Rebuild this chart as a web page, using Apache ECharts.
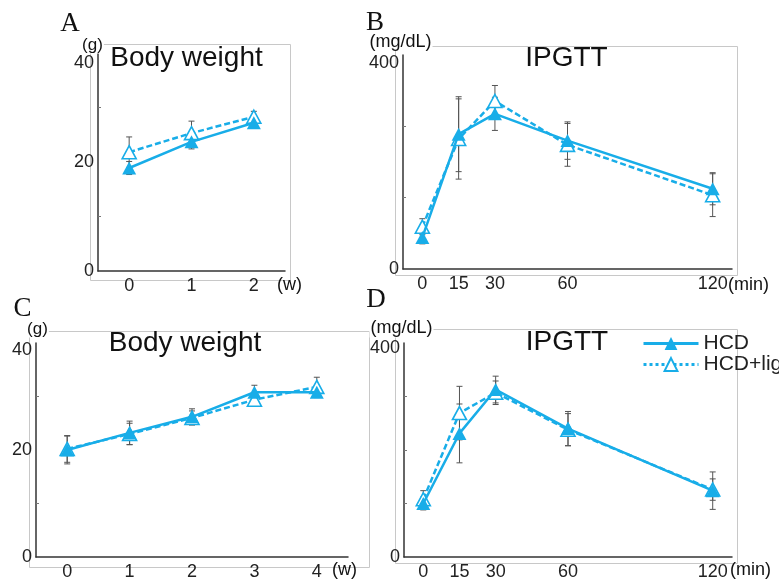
<!DOCTYPE html>
<html><head><meta charset="utf-8">
<script src="https://cdn.jsdelivr.net/npm/echarts@6/dist/echarts.min.js"></script>
<style>html,body{margin:0;padding:0;background:#fff}#c{width:779px;height:581px}</style>
</head><body><div id="c"></div>
<script>
// ---- data ----
const weeksA = ['0', '1', '2'];
const bwA_HCD = [18.9, 23.7, 27.2];
const bwA_HCD_sd = [1.2, 1.3, 0.8];
const bwA_lig = [21.8, 25.3, 28.3];
const bwA_lig_sd = [2.8, 2.2, 1.0];

const minutes = [0, 15, 30, 60, 120];
const gluB_HCD = [59, 252, 290, 240, 150];
const gluB_HCD_sd = [12, 70, 31, 35, 30];
const gluB_lig = [79, 243, 314, 232, 138];
const gluB_lig_sd = [15, 75, 29, 40, 40];

const weeksC = ['0', '1', '2', '3', '4'];
const bwC_HCD = [20.0, 23.2, 26.2, 30.8, 30.8];
const bwC_HCD_sd = [2.6, 2.2, 1.5, 1.3, 1.0];
const bwC_lig = [20.2, 23.0, 26.0, 29.4, 31.8];
const bwC_lig_sd = [2.5, 2.0, 1.3, 1.0, 1.8];

const gluD_HCD = [100, 231, 313, 240, 124];
const gluD_HCD_sd = [12, 55, 25, 32, 35];
const gluD_lig = [108, 269, 307, 238, 126];
const gluD_lig_sd = [16, 50, 22, 30, 20];

const bwLabels = [0, 20, 40];
const bwMinorTicks = [10, 30];
const gluLabels = [0, 400];
const gluMinorB = [133.3, 266.7];
const gluMinorD = [100, 200, 300];
const minuteLabels = [0, 15, 30, 60, 120];

// ---- styling ----
const BLUE = '#18ade8';
const SANS = '"Liberation Sans", Arial, Helvetica, sans-serif';
const SERIF = '"Liberation Serif", "Times New Roman", serif';

const idx = arr => arr.map((_, i) => i);

function lineSeries(name, ai, xs, ys, open) {
  return {
    type: 'line', name, xAxisIndex: ai, yAxisIndex: ai,
    data: ys.map((v, i) => [xs[i], v]),
    symbol: 'triangle', symbolSize: [14, 13],
    lineStyle: { color: BLUE, width: 2.5, type: open ? [6, 3] : 'solid' },
    itemStyle: open ? { color: '#fff', borderColor: BLUE, borderWidth: 1.6 } : { color: BLUE },
    z: open ? 3 : 4, animation: false
  };
}
function errSeries(ai, xs, ys, sds) {
  return {
    type: 'custom', xAxisIndex: ai, yAxisIndex: ai, z: 2, silent: true, animation: false,
    data: ys.map((v, i) => [xs[i], v, sds[i]]),
    encode: { x: 0, y: 1 },
    renderItem(params, api) {
      const x = api.value(0), v = api.value(1), e = api.value(2);
      const t = api.coord([x, v + e]), b = api.coord([x, v - e]);
      const w = 3, st = { stroke: '#555', lineWidth: 1 };
      return { type: 'group', children: [
        { type: 'line', shape: { x1: t[0], y1: t[1], x2: b[0], y2: b[1] }, style: st },
        { type: 'line', shape: { x1: t[0] - w, y1: t[1], x2: t[0] + w, y2: t[1] }, style: st },
        { type: 'line', shape: { x1: b[0] - w, y1: b[1], x2: b[0] + w, y2: b[1] }, style: st }
      ]};
    }
  };
}
const axLine = { show: true, onZero: false, lineStyle: { color: '#333', width: 1.5 } };
const lab = { fontSize: 18, color: '#222', fontFamily: SANS };
function catX(gi, data) {
  return { type: 'category', gridIndex: gi, data, boundaryGap: true, axisLine: axLine,
    axisTick: { show: false }, axisLabel: { ...lab, margin: 6 }, splitLine: { show: false } };
}
function minX(gi) {
  return { type: 'value', gridIndex: gi, min: -8, max: 128, axisLine: axLine,
    axisTick: { show: false }, axisLabel: { ...lab, margin: 6, customValues: minuteLabels },
    splitLine: { show: false } };
}
function valY(gi, max, labels, ticks, topPad) {
  return { type: 'value', gridIndex: gi, min: 0, max, axisLine: axLine,
    axisTick: { show: true, inside: true, length: 3, customValues: ticks, lineStyle: { color: '#777' } },
    axisLabel: { ...lab, margin: 4, customValues: labels,
      formatter: v => v === max ? '{t|' + v + '}' : String(v),
      rich: { t: { ...lab, padding: [topPad, 0, 0, 0] } } },
    splitLine: { show: false } };
}
function txt(text, x, y, size, opts) {
  return { type: 'text', x, y, z: 10, style: Object.assign({ text, font: size + 'px ' + SANS, fill: '#111',
    align: 'center', verticalAlign: 'middle' }, opts || {}) };
}
function frame(x, y, w, h) {
  return { type: 'rect', z: 0, shape: { x: x + 0.5, y: y + 0.5, width: w, height: h },
    style: { fill: 'none', stroke: '#c8c8c8', lineWidth: 1 } };
}
const unitBg = { backgroundColor: '#fff', padding: [0, 1] };

const chart = echarts.init(document.getElementById('c'), null, { renderer: 'canvas' });
chart.setOption({
  backgroundColor: '#fff',
  animation: false,
  grid: [
    { left: 98, top: 53, width: 187, height: 218 },
    { left: 403, top: 55, width: 329, height: 214 },
    { left: 36, top: 343, width: 312, height: 214 },
    { left: 404, top: 343, width: 328, height: 214 }
  ],
  xAxis: [catX(0, weeksA), minX(1), catX(2, weeksC), minX(3)],
  yAxis: [valY(0, 40, bwLabels, bwMinorTicks, 20), valY(1, 400, gluLabels, gluMinorB, 16),
          valY(2, 40, bwLabels, bwMinorTicks, 14), valY(3, 400, gluLabels, gluMinorD, 10)],
  legend: {
    orient: 'vertical', left: 642, top: 333, padding: 0, itemGap: 0,
    itemWidth: 55, itemHeight: 16,
    textStyle: { fontSize: 21, lineHeight: 20, color: '#222', fontFamily: SANS },
    data: [
      { name: 'HCD', lineStyle: { type: 'solid', width: 3 } },
      { name: 'HCD+lig', lineStyle: { type: [3, 3], width: 3 } }
    ]
  },
  series: [
    errSeries(0, idx(weeksA), bwA_HCD, bwA_HCD_sd),
    errSeries(0, idx(weeksA), bwA_lig, bwA_lig_sd),
    lineSeries('HCD+lig', 0, idx(weeksA), bwA_lig, true),
    lineSeries('HCD', 0, idx(weeksA), bwA_HCD, false),

    errSeries(1, minutes, gluB_HCD, gluB_HCD_sd),
    errSeries(1, minutes, gluB_lig, gluB_lig_sd),
    lineSeries('HCD+lig', 1, minutes, gluB_lig, true),
    lineSeries('HCD', 1, minutes, gluB_HCD, false),

    errSeries(2, idx(weeksC), bwC_HCD, bwC_HCD_sd),
    errSeries(2, idx(weeksC), bwC_lig, bwC_lig_sd),
    lineSeries('HCD+lig', 2, idx(weeksC), bwC_lig, true),
    lineSeries('HCD', 2, idx(weeksC), bwC_HCD, false),

    errSeries(3, minutes, gluD_HCD, gluD_HCD_sd),
    errSeries(3, minutes, gluD_lig, gluD_lig_sd),
    lineSeries('HCD+lig', 3, minutes, gluD_lig, true),
    lineSeries('HCD', 3, minutes, gluD_HCD, false)
  ],
  graphic: [
    frame(90, 44, 200, 236),
    frame(395, 46, 342, 229),
    frame(29, 331, 340, 236),
    frame(395, 329, 342, 234),
    txt('A', 70, 24, 27, { font: '27px ' + SERIF }),
    txt('B', 375, 23, 27, { font: '27px ' + SERIF }),
    txt('C', 22.5, 309, 27, { font: '27px ' + SERIF }),
    txt('D', 376, 300, 27, { font: '27px ' + SERIF }),
    txt('Body weight', 186.5, 58, 28),
    txt('IPGTT', 566.5, 58.5, 28),
    txt('Body weight', 185, 343, 28),
    txt('IPGTT', 567, 342, 28),
    txt('(g)', 92.5, 45, 17, unitBg),
    txt('(mg/dL)', 400.5, 42, 18, unitBg),
    txt('(g)', 37.5, 329, 17, unitBg),
    txt('(mg/dL)', 401.5, 328.5, 18, unitBg),
    txt('(w)', 277, 285, 18, { align: 'left' }),
    txt('(min)', 728, 285, 18, { align: 'left' }),
    txt('(w)', 332, 570, 18, { align: 'left' }),
    txt('(min)', 730, 570, 18, { align: 'left' })
  ]
});
</script></body></html>
